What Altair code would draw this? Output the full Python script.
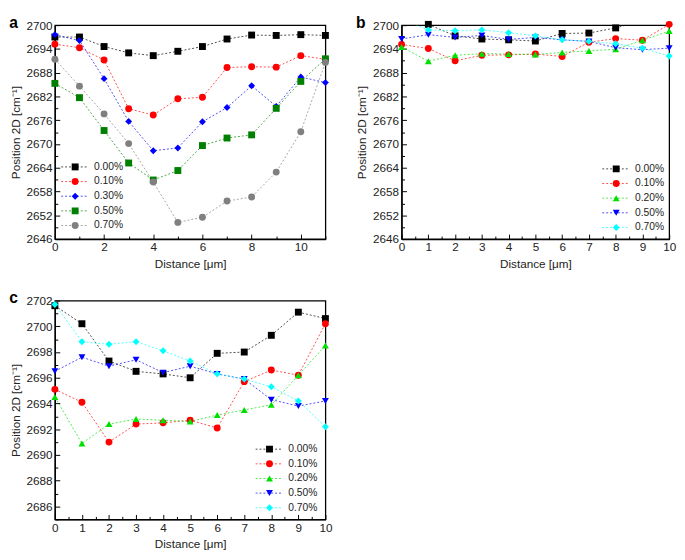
import altair as alt
import pandas as pd

# ---------------- data ----------------
dist_a = list(range(12))
names_a = ["0.00%", "0.10%", "0.30%", "0.50%", "0.70%"]
a_000 = [2697.0, 2697.0, 2694.6, 2693.0, 2692.3, 2693.4, 2694.6, 2696.5, 2697.5, 2697.4, 2697.6, 2697.4]
a_010 = [2695.2, 2694.3, 2691.2, 2678.9, 2677.3, 2681.4, 2681.8, 2689.3, 2689.5, 2689.4, 2692.3, 2691.4]
a_030 = [2697.6, 2696.1, 2686.5, 2675.7, 2668.3, 2669.0, 2675.6, 2679.2, 2684.7, 2679.5, 2686.9, 2685.5]
a_050 = [2685.3, 2681.7, 2673.4, 2665.2, 2660.9, 2663.3, 2669.6, 2671.5, 2672.3, 2679.0, 2685.8, 2691.5]
a_070 = [2691.4, 2684.6, 2677.6, 2670.1, 2660.4, 2650.2, 2651.5, 2655.6, 2656.6, 2662.9, 2673.1, 2690.6]

dist_c = list(range(11))
names_c = ["0.00%", "0.10%", "0.20%", "0.50%", "0.70%"]
c_000 = [2701.6, 2700.2, 2697.3, 2696.5, 2696.3, 2696.0, 2697.9, 2698.0, 2699.3, 2701.1, 2700.6]
c_010 = [2695.1, 2694.1, 2691.0, 2692.4, 2692.5, 2692.7, 2692.1, 2695.7, 2696.6, 2696.2, 2700.2]
c_020 = [2694.5, 2690.9, 2692.4, 2692.8, 2692.7, 2692.6, 2693.1, 2693.5, 2693.9, 2696.2, 2698.5]
c_050 = [2696.5, 2697.6, 2696.9, 2697.4, 2696.4, 2696.9, 2696.3, 2695.9, 2694.3, 2693.8, 2694.2]
c_070 = [2701.7, 2698.8, 2698.6, 2698.8, 2698.1, 2697.3, 2696.3, 2695.9, 2695.3, 2694.2, 2692.2]

colors_a = ["#000000", "#ff0000", "#0000ff", "#008000", "#808080"]
shapes_a = ["square", "circle", "diamond", "square", "circle"]
colors_c = ["#000000", "#ff0000", "#00e000", "#0000ff", "#00ffff"]
shapes_c = ["square", "circle", "triangle-up", "triangle-down", "diamond"]

x_title = "Distance [\u03bcm]"
y_title = "Position 2D [cm\u207b\u00b9]"


def long_df(dist, names, series):
    rows = []
    for n, vals in zip(names, series):
        for x, y in zip(dist, vals):
            rows.append({"x": x, "y": y, "series": n})
    return pd.DataFrame(rows)


df_a = long_df(dist_a, names_a, [a_000, a_010, a_030, a_050, a_070])
df_c = long_df(dist_c, names_c, [c_000, c_010, c_020, c_050, c_070])

FONT = "Liberation Sans"


def panel(df, letter, names, colors, shapes, xdom, xvals, xmajor, ydom, yvals, ymajor,
          width, height, leg_center, leg_from_bottom, clip=False, ymax_pts=None):
    xaxis = alt.Axis(values=xvals, labelExpr=f"({xmajor}) ? format(datum.value, 'd') : ''",
                     tickSize={"condition": {"test": xmajor, "value": -5}, "value": -3},
                     labelFlush=False, title=x_title, grid=False, labelPadding=8,
                     titlePadding=6)
    yaxis = alt.Axis(values=yvals, labelExpr=f"({ymajor}) ? format(datum.value, 'd') : ''",
                     tickSize={"condition": {"test": ymajor, "value": -5}, "value": -3},
                     title=y_title, grid=False, labelPadding=8, titlePadding=4)
    xs = alt.Scale(domain=xdom, nice=False, zero=False)
    ys = alt.Scale(domain=ydom, nice=False, zero=False)
    cscale = alt.Scale(domain=names, range=colors)
    sscale = alt.Scale(domain=names, range=shapes)
    ly = height - leg_from_bottom
    line_leg = alt.Legend(orient="none", legendX=leg_center - 13, legendY=ly, title=None,
                          symbolType="stroke", symbolSize=676, symbolStrokeWidth=1,
                          symbolDash=[2, 2], symbolOpacity=0.7, labelOpacity=0,
                          labelFontSize=1, clipHeight=14.3, rowPadding=0, padding=0)
    pt_leg = alt.Legend(orient="none", legendX=leg_center - 3.5, legendY=ly, title=None,
                        symbolSize=50, labelOffset=14, labelFontSize=10.5,
                        labelFontWeight="normal",
                        clipHeight=14.3, rowPadding=0, padding=0, symbolStrokeWidth=0)
    base = alt.Chart(df)
    lines = base.mark_line(strokeDash=[2, 2], strokeWidth=1, opacity=0.7, clip=clip).encode(
        x=alt.X("x:Q", scale=xs, axis=xaxis),
        y=alt.Y("y:Q", scale=ys, axis=yaxis),
        color=alt.Color("series:N", scale=cscale, legend=line_leg),
    )
    pts_base = base
    if ymax_pts is not None:
        pts_base = base.transform_filter(alt.datum.y <= ymax_pts)
    pts = pts_base.mark_point(filled=True, size=50, opacity=1).encode(
        x=alt.X("x:Q", scale=xs, axis=xaxis),
        y=alt.Y("y:Q", scale=ys, axis=yaxis),
        color=alt.Color("series:N", scale=cscale, legend=pt_leg),
        shape=alt.Shape("series:N", scale=sscale, legend=pt_leg),
    )
    return alt.layer(lines, pts).resolve_legend(
        color="independent", shape="independent"
    ).properties(
        width=width, height=height,
        title=alt.TitleParams(letter, anchor="start", frame="bounds", fontSize=16,
                              fontWeight="bold", font=FONT, offset=-12, color="#000"),
    )


pa = panel(df_a, "a", names_a, colors_a, shapes_a, [0, 11], list(range(12)),
           "datum.value % 2 === 0", [2646, 2700], list(range(2646, 2701, 3)),
           "(datum.value - 2646) % 6 === 0", 277, 219, 19, 81)
pb = panel(df_c, "b", names_c, colors_c, shapes_c, [0, 10], [i * 0.5 for i in range(21)],
           "datum.value % 1 === 0", [2646, 2700], list(range(2646, 2701, 3)),
           "(datum.value - 2646) % 6 === 0", 274, 219, 218, 79, clip=True, ymax_pts=2700.3)
pc = panel(df_c, "c", names_c, colors_c, shapes_c, [0, 10], [i * 0.5 for i in range(21)],
           "datum.value % 1 === 0", [2685, 2702], list(range(2685, 2703)),
           "datum.value % 2 === 0", 277, 224, 218, 79)

top = alt.hconcat(pa, pb, spacing=25).resolve_scale(color="independent", shape="independent")
chart = alt.vconcat(top, pc, spacing=20).resolve_scale(
    color="independent", shape="independent"
).properties(padding=0).configure_view(
    stroke="#000", strokeWidth=1.3
).configure_axis(
    labelFont=FONT, titleFont=FONT, labelFontSize=12, titleFontSize=12,
    labelColor="#222", titleColor="#222", titleFontWeight="normal",
    domainColor="#000", tickColor="#000", domainWidth=1.3, tickWidth=1,
).configure_legend(
    labelFont=FONT, labelColor="#222"
)

chart.save("out.html", embed_options={"renderer": "svg", "actions": False})
